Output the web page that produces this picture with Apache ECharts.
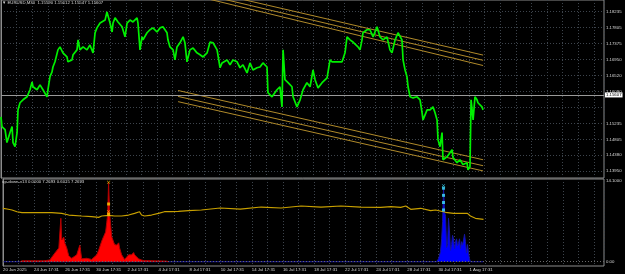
<!DOCTYPE html>
<html><head><meta charset="utf-8">
<script src="https://cdn.jsdelivr.net/npm/echarts@6/dist/echarts.min.js"></script>
<style>html,body{margin:0;padding:0;background:#000}#c{width:625px;height:274px}</style>
</head><body><div id="c"></div>
<script>
// ---- data (x in trading days since 20 Jun 2025 17:31) ----
const dayTickLabels = ['20 Jun 2025','24 Jun 17:31','26 Jun 17:31','30 Jun 17:31','2 Jul 17:31','4 Jul 17:31','8 Jul 17:31','10 Jul 17:31','14 Jul 17:31','16 Jul 17:31','18 Jul 17:31','22 Jul 17:31','24 Jul 17:31','28 Jul 17:31','30 Jul 17:31','1 Aug 17:31'];
const priceTickValues = [1.18235,1.17805,1.17375,1.16950,1.16520,1.16090,1.15660,1.15235,1.14805,1.14380,1.13950];
const priceLabelValues = [1.18235,1.17805,1.17375,1.16950,1.16520,1.16090,1.15235,1.14805,1.14380,1.13950];
const headerText = '\u25BC EURUSD,M30  1.15590 1.15612 1.15547 1.15607';
const indicatorText = 'up-down-v13 0.0000 7.2693 0.6015 7.2693';
const lastPrice = 1.15607;

const priceDays = [
 0,0.06,0.26,0.38,0.58,0.71,0.77,0.90,1.03,1.09,
 1.22,1.41,1.67,1.86,1.99,2.05,2.31,2.50,2.69,2.95,
 3.01,3.14,3.27,3.33,3.46,3.65,3.78,3.97,4.23,4.29,
 4.55,4.62,4.87,4.94,5.06,5.26,5.51,5.70,5.90,6.03,
 6.15,6.35,6.47,6.67,6.79,6.99,7.12,7.18,7.31,7.50,
 7.76,7.95,8.08,8.27,8.46,8.72,8.78,8.91,9.04,9.10,
 9.36,9.55,9.74,10.00,10.19,10.38,10.64,10.70,10.83,11.03,
 11.15,11.28,11.47,11.67,11.79,11.92,12.11,12.31,12.56,12.76,
 12.95,13.21,13.40,13.59,13.85,14.04,14.17,14.49,14.68,14.87,
 15.13,15.32,15.51,15.77,15.96,16.15,16.41,16.60,16.79,17.05,
 17.11,17.37,17.69,17.88,18.01,18.08,18.20,18.40,18.65,18.72,
 18.97,19.17,19.36,19.61,19.81,20.00,20.13,20.32,20.58,20.90,
 21.09,21.22,21.54,21.86,22.05,22.18,22.37,22.56,22.88,23.01,
 23.14,23.20,23.46,23.65,23.85,24.10,24.29,24.49,24.74,24.93,
 25.06,25.26,25.45,25.70,25.77,25.90,26.02,26.09,26.22,26.41,
 26.67,26.86,26.99,27.05,27.31,27.50,27.69,27.82,27.95,28.01,
 28.14,28.27,28.33,28.59,28.78,28.91,28.97,29.23,29.42,29.61,
 29.87,29.93,30.06,30.13,30.26,30.38,30.51,30.57,30.83,30.90];
const priceValues = [
 1.1541,1.1515,1.1507,1.1472,1.1499,1.1515,1.1472,1.1461,1.1499,1.1560,
 1.1579,1.1587,1.1595,1.1614,1.1635,1.1622,1.1614,1.1627,1.1614,1.1595,
 1.1614,1.1649,1.1662,1.1675,1.1689,1.1721,1.1729,1.1713,1.1702,1.1689,
 1.1694,1.1708,1.1721,1.1748,1.1721,1.1729,1.1721,1.1734,1.1713,1.1767,
 1.1780,1.1793,1.1788,1.1801,1.1823,1.1793,1.1769,1.1793,1.1807,1.1796,
 1.1783,1.1756,1.1793,1.1801,1.1796,1.1807,1.1793,1.1721,1.1756,1.1748,
 1.1767,1.1775,1.1780,1.1769,1.1780,1.1783,1.1767,1.1748,1.1729,1.1721,
 1.1694,1.1729,1.1740,1.1756,1.1740,1.1689,1.1721,1.1726,1.1713,1.1708,
 1.1702,1.1713,1.1742,1.1740,1.1721,1.1673,1.1686,1.1694,1.1681,1.1694,
 1.1689,1.1673,1.1681,1.1659,1.1686,1.1667,1.1673,1.1675,1.1686,1.1675,
 1.1606,1.1595,1.1614,1.1622,1.1568,1.1721,1.1641,1.1633,1.1622,1.1595,
 1.1568,1.1587,1.1614,1.1633,1.1622,1.1667,1.1641,1.1619,1.1633,1.1646,
 1.1694,1.1689,1.1689,1.1689,1.1713,1.1756,1.1748,1.1742,1.1729,1.1721,
 1.1748,1.1767,1.1775,1.1775,1.1756,1.1783,1.1756,1.1748,1.1756,1.1721,
 1.1713,1.1748,1.1767,1.1748,1.1694,1.1667,1.1649,1.1622,1.1595,1.1592,
 1.1595,1.1587,1.1552,1.1533,1.1560,1.1560,1.1568,1.1552,1.1533,1.1480,
 1.1461,1.1499,1.1426,1.1434,1.1445,1.1453,1.1432,1.1418,1.1426,1.1413,
 1.1418,1.1399,1.1407,1.1587,1.1533,1.1595,1.1587,1.1579,1.1568,1.1560];

// channel lines: [startDay, startPrice, endDay, endPrice]
const channelLines = [
 [12.76,1.1883,30.90,1.1707],
 [12.76,1.1872,30.90,1.1693],
 [12.76,1.1863,30.90,1.1679],
 [11.35,1.1612,30.90,1.1426],
 [11.35,1.1596,30.90,1.1410],
 [11.35,1.1582,30.90,1.1396]];

// indicator window
const avgDays = [0,0.26,0.58,0.90,1.22,1.86,2.50,3.14,3.78,4.23,5.06,5.70,6.15,6.35,6.79,7.18,7.63,8.08,8.46,8.78,8.91,9.10,9.55,10.00,10.38,10.83,11.28,11.92,12.76,13.97,15.26,16.60,17.88,19.17,20.45,21.73,23.01,24.29,24.94,25.58,25.90,26.22,26.86,27.50,27.82,28.46,28.97,29.87,30.06,30.38,30.90];
const avgValues = [9.34,9.21,9.04,8.74,8.57,8.59,8.57,8.57,8.46,8.16,7.99,7.87,7.76,7.99,8.11,7.99,7.99,8.16,8.46,8.74,8.16,7.99,8.16,8.46,8.74,8.74,8.80,8.92,9.04,9.39,9.21,9.56,9.39,9.74,9.56,9.74,9.56,9.51,9.62,9.51,9.74,9.16,9.34,8.92,9.04,8.64,8.46,8.46,7.99,7.59,7.41];

const downDays = [1.09,1.22,2.63,3.01,3.14,3.33,3.59,3.72,3.78,3.91,3.97,4.10,4.23,4.42,4.74,4.94,5.06,5.38,5.70,6.03,6.15,6.35,6.47,6.60,6.67,6.73,6.79,6.86,6.99,7.12,7.18,7.31,7.44,7.50,7.63,7.82,8.08,8.27,8.40,8.46,8.72,8.91,9.04,10.51,10.64];
const downValues = [0,0.15,0.15,0.3,0.8,1.5,2.4,7.6,3.8,4.3,3.3,2.4,1.0,0.6,1.2,2.9,0.5,0.6,0.4,1.2,2.0,3.6,4.4,5.2,6.8,8.2,13.9,8.3,4.4,3.4,3.0,2.9,3.3,2.4,1.2,0.4,1.2,1.2,1.6,1.2,0.5,0.3,0.2,0.1,0];

const upDays = [0,27.88,28.01,28.14,28.21,28.27,28.33,28.40,28.46,28.53,28.59,28.65,28.72,28.78,28.85,28.91,28.97,29.04,29.10,29.17,29.23,29.29,29.36,29.42,29.49,29.55,29.62,29.68,29.74,29.81,29.87,29.94,30.00,30.06,30.90];
const upValues = [0,0,0.5,1.8,4.0,7.0,12.9,8.7,7.9,2.5,3.0,7.6,5.0,2.0,3.0,4.6,4.0,2.3,3.5,4.0,2.8,3.2,4.0,2.3,3.5,2.9,3.8,4.8,3.5,1.5,3.0,1.5,0.5,0,0];

const downSignalDay = 6.79;
const downSignalCross = [13.88, 8.74];
const downSignalDots = [10.09, 8.29];
const upSignalDay = 28.33;
const upSignalCross = [13.3];
const upSignalDots = [12.85, 11.6, 10.35, 9.05];

// ---- chart ----
const FONT = 'Liberation Sans';
const LBL = '#d8d8d8';
const GRIDC = '#3d444c';
const BORDER = '#8c8c8c';
const crossPath = 'path://M0,1L1,0L5,4L9,0L10,1L6,5L10,9L9,10L5,6L1,10L0,9L4,5Z';
const zip = (a, b) => a.map((v, i) => [v, b[i]]);

const chart = echarts.init(document.getElementById('c'), null, {renderer: 'canvas'});
const xCommon = {type: 'value', min: 0, max: 38.65, interval: 1,
  axisLine: {show: false}, axisTick: {show: false},
  splitLine: {show: true, lineStyle: {color: GRIDC, type: [1, 2], width: 1}}};

const series = [];
series.push({type: 'line', xAxisIndex: 0, yAxisIndex: 0, data: zip(priceDays, priceValues),
  showSymbol: false, lineStyle: {color: '#00f000', width: 1.7}, z: 5,
  markLine: {silent: true, symbol: 'none', animation: false,
    lineStyle: {color: '#9a9a9a', type: 'solid', width: 1},
    label: {show: true, position: 'end', formatter: lastPrice.toFixed(5), backgroundColor: '#ffffff',
      color: '#000', fontSize: 4.3, fontFamily: FONT, padding: [1, 1, 0, 1], distance: 1},
    data: [{yAxis: lastPrice}]}});
channelLines.forEach(c => series.push({type: 'line', xAxisIndex: 0, yAxisIndex: 0,
  data: [[c[0], c[1]], [c[2], c[3]]], showSymbol: false, silent: true,
  lineStyle: {color: '#b08a2a', width: 1}, z: 3}));
series.push({type: 'line', xAxisIndex: 1, yAxisIndex: 1, data: zip(upDays, upValues), showSymbol: false,
  lineStyle: {color: '#1616a0', width: 1}, areaStyle: {color: '#0000ff', opacity: 1}, z: 2,
  markLine: {silent: true, symbol: 'none', animation: false, label: {show: false},
    lineStyle: {color: '#6a6a6a', type: [1, 2], width: 1}, data: [{yAxis: 0}]}});
series.push({type: 'line', xAxisIndex: 1, yAxisIndex: 1, data: zip(downDays, downValues), showSymbol: false,
  lineStyle: {color: '#b00000', width: 1}, areaStyle: {color: '#ff0000', opacity: 1}, z: 3});
series.push({type: 'line', xAxisIndex: 1, yAxisIndex: 1, data: zip(avgDays, avgValues), showSymbol: false,
  lineStyle: {color: '#c8a000', width: 1.2}, z: 4});
series.push({type: 'scatter', xAxisIndex: 1, yAxisIndex: 1, symbol: crossPath, symbolSize: 3.5,
  itemStyle: {color: '#ffd000'}, z: 6, data: downSignalCross.map(v => [downSignalDay, v])});
series.push({type: 'scatter', xAxisIndex: 1, yAxisIndex: 1, symbol: 'rect', symbolSize: 3,
  itemStyle: {color: '#ffd000'}, z: 6, data: downSignalDots.map(v => [downSignalDay, v])});
series.push({type: 'scatter', xAxisIndex: 1, yAxisIndex: 1, symbol: crossPath, symbolSize: 3.5,
  itemStyle: {color: '#40e0ff'}, z: 6, data: upSignalCross.map(v => [upSignalDay, v])});
series.push({type: 'scatter', xAxisIndex: 1, yAxisIndex: 1, symbol: 'rect', symbolSize: 3,
  itemStyle: {color: '#40e0ff'}, z: 6, data: upSignalDots.map(v => [upSignalDay, v])});

chart.setOption({
  backgroundColor: '#000000',
  animation: false,
  title: [
    {text: headerText, left: 2, top: 1, padding: 0, textStyle: {color: LBL, fontSize: 4.3, fontWeight: 'normal', fontFamily: FONT}},
    {text: indicatorText, left: 2, top: 180, padding: 0, textStyle: {color: LBL, fontSize: 4.3, fontWeight: 'normal', fontFamily: FONT}}
  ],
  grid: [
    {left: 1, right: 21, top: 0, height: 178, show: true, borderColor: BORDER, borderWidth: 1, backgroundColor: 'transparent'},
    {left: 1, right: 21, top: 179, height: 87, show: true, borderColor: BORDER, borderWidth: 1, backgroundColor: 'transparent'}
  ],
  xAxis: [
    Object.assign({gridIndex: 0, axisLabel: {show: false}}, xCommon),
    Object.assign({gridIndex: 1, axisLabel: {show: true, color: LBL, fontSize: 4.3, fontFamily: FONT, align: 'left', margin: 2,
      formatter: v => (v % 2 === 0 && v / 2 < dayTickLabels.length) ? dayTickLabels[v / 2] : ''}}, xCommon)
  ],
  yAxis: [
    {gridIndex: 0, type: 'value', position: 'right', min: 1.13770, max: 1.18549,
      axisLine: {show: true, lineStyle: {color: BORDER}},
      axisTick: {show: false, customValues: priceTickValues},
      axisLabel: {customValues: priceLabelValues, formatter: v => v.toFixed(5), color: LBL, fontSize: 4.3, fontFamily: FONT, margin: 2},
      splitLine: {show: true, lineStyle: {color: GRIDC, type: [1, 2], width: 1}}},
    {gridIndex: 1, type: 'value', position: 'right', min: -0.75, max: 14.46,
      axisLine: {show: true, lineStyle: {color: BORDER}},
      axisTick: {show: false, customValues: [0, 14.1]},
      axisLabel: {customValues: [0, 14.1], formatter: v => v === 0 ? '0.00' : v.toFixed(4), color: LBL, fontSize: 4.3, fontFamily: FONT, margin: 2},
      splitLine: {show: false}}
  ],
  series: series
});
</script></body></html>
